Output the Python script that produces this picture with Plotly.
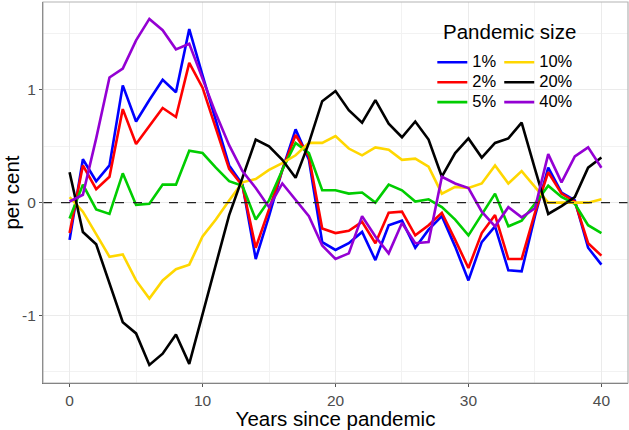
import plotly.graph_objects as go

years = list(range(41))

size_1 = [-0.33, 0.385, 0.19, 0.33, 1.04, 0.72, 0.91, 1.09, 0.98, 1.54,
          1.13, 0.74, 0.33, 0.16, -0.50, -0.12, 0.29, 0.65, 0.38, -0.35,
          -0.42, -0.36, -0.26, -0.51, -0.20, -0.16, -0.40, -0.24, -0.12, -0.39,
          -0.69, -0.35, -0.21, -0.60, -0.61, -0.12, 0.31, 0.09, 0.02, -0.40, -0.55]
size_2 = [-0.27, 0.33, 0.12, 0.23, 0.83, 0.52, 0.68, 0.84, 0.76, 1.24,
          1.02, 0.65, 0.30, 0.15, -0.40, -0.06, 0.29, 0.60, 0.41, -0.23,
          -0.27, -0.25, -0.17, -0.36, -0.09, -0.08, -0.29, -0.20, -0.09, -0.33,
          -0.58, -0.27, -0.11, -0.50, -0.50, -0.09, 0.27, 0.08, 0.01, -0.36, -0.47]
size_5 = [-0.14, 0.16, -0.06, -0.10, 0.26, -0.02, -0.01, 0.16, 0.16, 0.46,
          0.44, 0.31, 0.19, 0.15, -0.15, 0.02, 0.29, 0.53, 0.44, 0.11,
          0.11, 0.08, 0.09, 0.00, 0.16, 0.11, 0.01, 0.03, -0.04, -0.15,
          -0.29, -0.11, 0.08, -0.21, -0.16, -0.01, 0.15, 0.05, -0.01, -0.20, -0.27]
size_10 = [0.05, -0.08, -0.28, -0.48, -0.46, -0.69, -0.85, -0.69, -0.59, -0.55,
           -0.30, -0.15, 0.02, 0.18, 0.21, 0.29, 0.35, 0.42, 0.53, 0.53,
           0.59, 0.48, 0.42, 0.49, 0.47, 0.38, 0.39, 0.32, 0.08, 0.14,
           0.13, 0.17, 0.33, 0.17, 0.28, 0.14, 0.00, 0.00, 0.00, 0.00, 0.03]
size_20 = [0.27, -0.26, -0.37, -0.71, -1.06, -1.16, -1.44, -1.34, -1.17, -1.43,
           -0.99, -0.56, -0.11, 0.22, 0.56, 0.50, 0.38, 0.22, 0.53, 0.90,
           0.99, 0.82, 0.71, 0.91, 0.70, 0.58, 0.72, 0.56, 0.23, 0.44,
           0.57, 0.40, 0.53, 0.57, 0.71, 0.30, -0.10, -0.03, 0.05, 0.31, 0.40]
size_40 = [0.01, 0.07, 0.57, 1.11, 1.19, 1.44, 1.63, 1.53, 1.36, 1.41,
           1.10, 0.79, 0.51, 0.28, 0.13, -0.04, 0.17, 0.02, -0.12, -0.38,
           -0.50, -0.45, -0.12, -0.30, -0.45, -0.18, -0.36, -0.35, 0.23, 0.17,
           0.13, -0.08, -0.21, -0.04, -0.13, -0.05, 0.43, 0.18, 0.41, 0.49, 0.31]

labels = ["1%", "2%", "5%", "10%", "20%", "40%"]
series = [size_1, size_2, size_5, size_10, size_20, size_40]
colors = ["#0000FF", "#FF0000", "#00CD00", "#FFD700", "#000000", "#9400D3"]
legends = ["legend", "legend", "legend", "legend2", "legend2", "legend2"]
legend_title = "Pandemic size"

x_ticks = [0, 10, 20, 30, 40]
y_ticks = [-1, 0, 1]

font_family = "Liberation Sans, Arial, sans-serif"

fig = go.Figure()
for lab, vals, col, lg in zip(labels, series, colors, legends):
    fig.add_trace(go.Scatter(
        x=years, y=vals, mode="lines",
        name="<span style='font-size:16.5px'>" + lab + "</span>",
        line=dict(color=col, width=2.6), legend=lg, hoverinfo="x+y"))

# reference line at zero
fig.add_hline(y=0, line=dict(color="#222222", width=1.1, dash="dash"), layer="above")

# panel border
fig.add_shape(type="rect", xref="paper", yref="paper", x0=0, x1=1, y0=0, y1=1,
              line=dict(color="#B3B3B3", width=1.2), layer="above")
# legend background box (covers grid lines, under traces)
fig.add_shape(type="rect", xref="paper", yref="paper",
              x0=0.672, x1=0.917, y0=0.733, y1=0.968,
              line=dict(width=0), fillcolor="white", layer="between")

fig.add_annotation(text=legend_title, xref="paper", yref="paper",
                   x=0.6795, y=0.9213, xanchor="left", yanchor="middle",
                   showarrow=False, font=dict(size=20.5, color="black", family=font_family))

fig.update_layout(
    width=629, height=430,
    margin=dict(l=43, r=1, t=2, b=47),
    paper_bgcolor="white", plot_bgcolor="white",
    font=dict(family=font_family, color="black"),
    showlegend=True,
    legend=dict(
        x=0.6655, y=0.881, xanchor="left", yanchor="top",
        bgcolor="rgba(0,0,0,0)", borderwidth=0,
        font=dict(size=13, color="black", family=font_family),
        tracegroupgap=0,
    ),
    legend2=dict(
        x=0.7799, y=0.881, xanchor="left", yanchor="top",
        bgcolor="rgba(0,0,0,0)", borderwidth=0,
        font=dict(size=13, color="black", family=font_family),
        tracegroupgap=0,
    ),
    xaxis=dict(
        range=[-2.0, 42.0], tickvals=x_ticks, ticktext=[str(v) for v in x_ticks],
        showgrid=True, gridcolor="#EBEBEB", gridwidth=1,
        minor=dict(dtick=5, tick0=0, showgrid=True, gridcolor="#F2F2F2", gridwidth=1),
        showline=True, linecolor="#555555", linewidth=1.2,
        ticks="outside", ticklen=3, tickcolor="#555555",
        tickfont=dict(size=15.5, color="#4D4D4D"),
        zeroline=False,
        title=dict(text="Years since pandemic", font=dict(size=20.5, color="black"), standoff=4),
    ),
    yaxis=dict(
        range=[-1.60, 1.78], tickvals=y_ticks, ticktext=[str(v) for v in y_ticks],
        showgrid=True, gridcolor="#EBEBEB", gridwidth=1,
        minor=dict(dtick=0.5, tick0=0.5, showgrid=True, gridcolor="#F2F2F2", gridwidth=1),
        showline=True, linecolor="#555555", linewidth=1.2,
        ticks="outside", ticklen=3, tickcolor="#555555",
        tickfont=dict(size=15.5, color="#4D4D4D"),
        zeroline=False,
        title=dict(text="per cent", font=dict(size=20.5, color="black"), standoff=6),
    ),
)

fig.write_html("out.html", config={"displayModeBar": False},
               post_script="document.body.style.margin='0';")
